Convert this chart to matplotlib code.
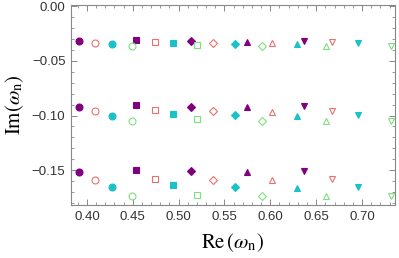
import numpy as np
import matplotlib
matplotlib.use("Agg")
import matplotlib.pyplot as plt
from matplotlib.ticker import MultipleLocator

plt.rcParams['font.family'] = ['Liberation Sans', 'DejaVu Sans']
plt.rcParams['mathtext.fontset'] = 'stix'

# real parts per colour group, one entry per marker shape
shapes = ['o', 's', 'D', '^', 'v']
re_purple = [0.391, 0.453, 0.514, 0.575, 0.637]
re_red = [0.409, 0.474, 0.538, 0.602, 0.667]
re_cyan = [0.427, 0.494, 0.561, 0.629, 0.696]
re_green = [0.449, 0.520, 0.591, 0.661, 0.732]

# imaginary parts, three overtones (rows) per colour group
im_purple = [[-0.0320, -0.0307, -0.0317, -0.0323, -0.0314],
             [-0.0919, -0.0906, -0.0919, -0.0919, -0.0913],
             [-0.1518, -0.1503, -0.1512, -0.1515, -0.1512]]
im_red = [[-0.0335, -0.0323, -0.0332, -0.0332, -0.0326],
          [-0.0959, -0.0950, -0.0959, -0.0965, -0.0956],
          [-0.1592, -0.1580, -0.1589, -0.1589, -0.1586]]
im_cyan = [[-0.0347, -0.0335, -0.0344, -0.0347, -0.0338],
           [-0.1002, -0.0989, -0.0998, -0.1005, -0.0995],
           [-0.1659, -0.1640, -0.1656, -0.1665, -0.1653]]
im_green = [[-0.0362, -0.0353, -0.0362, -0.0365, -0.0360],
            [-0.1048, -0.1032, -0.1050, -0.1053, -0.1048],
            [-0.1741, -0.1729, -0.1741, -0.1741, -0.1738]]

groups = [
    (re_purple, im_purple, '#800080', True),
    (re_red, im_red, '#e8706f', False),
    (re_cyan, im_cyan, '#1cc0c8', True),
    (re_green, im_green, '#7ee07e', False),
]
sizes = {'o': 5.0, 's': 3.8, 'D': 3.6, '^': 4.6, 'v': 4.6}

fig = plt.figure(figsize=(3.99, 2.58), dpi=100)
ax = fig.add_axes([0.178, 0.2054, 0.812, 0.7756])

for re_vals, im_rows, col, filled in groups:
    for k, m in enumerate(shapes):
        for row in im_rows:
            ax.plot(re_vals[k], row[k], linestyle='none', marker=m,
                    markersize=sizes[m], markeredgewidth=0.8,
                    markeredgecolor=col,
                    markerfacecolor=col if filled else 'none')

ax.set_xlim(0.3826, 0.736)
ax.set_ylim(-0.182, 0.0014)
ax.xaxis.set_major_locator(MultipleLocator(0.05))
ax.xaxis.set_minor_locator(MultipleLocator(0.01))
ax.yaxis.set_major_locator(MultipleLocator(0.05))
ax.yaxis.set_minor_locator(MultipleLocator(0.01))
ax.xaxis.set_major_formatter(lambda v, p: f"{v:.2f}")
ax.yaxis.set_major_formatter(lambda v, p: f"{v:.2f}".replace('-', '\u2212'))

for s in ax.spines.values():
    s.set_color('#888888')
    s.set_linewidth(0.8)
ax.tick_params(which='both', direction='in', top=True, right=True,
               color='#888888', labelsize=9.5, labelcolor='#333333')
ax.tick_params(which='major', length=4.5, width=0.7, pad=4)
ax.tick_params(which='minor', length=2.5, width=0.6)

ax.set_xlabel(r'$\mathrm{Re}\,(\omega_\mathrm{n})$', fontsize=15, labelpad=6)
ax.set_ylabel(r'$\mathrm{Im}(\omega_\mathrm{n})$', fontsize=15, labelpad=4)

fig.savefig('out.png', dpi=100)
